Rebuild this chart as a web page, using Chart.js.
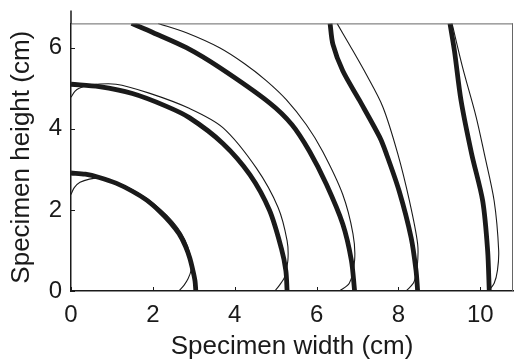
<!DOCTYPE html>
<html>
<head>
<meta charset="utf-8">
<script src="https://cdn.jsdelivr.net/npm/chart.js@4.4.1/dist/chart.umd.min.js"></script>
<style>
  html, body { margin: 0; padding: 0; background: #fff; }
</style>
</head>
<body>
<canvas id="contourChart" width="516" height="364"></canvas>
<script>
// === DATA (cm) ===
const xTicks = [0, 2, 4, 6, 8, 10];
const yTicks = [0, 2, 4, 6];

// thick contours
const thick1 = [[0,2.91],[0.35,2.88],[0.69,2.80],[1.1,2.66],[1.5,2.46],[1.85,2.24],[2.15,1.98],[2.42,1.70],[2.64,1.41],[2.8,1.1],[2.9,0.82],[2.98,0.5],[3.03,0.25],[3.05,0]];
const thick2 = [[0,5.10],[0.69,5.04],[1.5,4.87],[2.32,4.56],[2.9,4.27],[3.71,3.64],[4.37,2.87],[4.85,1.99],[5.14,1.05],[5.25,0.5],[5.28,0]];
const thick3 = [[1.48,6.6],[2.01,6.37],[2.82,6.0],[3.63,5.51],[4.85,4.64],[5.4,4.1],[5.83,3.44],[6.24,2.63],[6.64,1.65],[6.85,0.76],[6.93,0]];
const thick4 = [[6.33,6.6],[6.40,6.08],[6.64,5.43],[7.05,4.70],[7.54,3.80],[7.7,3.4],[8.02,2.46],[8.31,1.32],[8.43,0.51],[8.47,0]];
const thick5 = [[9.26,6.6],[9.37,5.92],[9.53,4.70],[9.79,3.38],[10.06,2.22],[10.18,1.0],[10.22,0]];

// thin contours
const thin1 = [[0,2.38],[0.08,2.55],[0.22,2.68],[0.45,2.76],[0.7,2.78],[1.1,2.68],[1.5,2.5],[1.85,2.28],[2.2,2.0],[2.48,1.72],[2.7,1.42],[2.85,1.1],[2.93,0.76],[2.93,0.5],[2.86,0.3],[2.76,0.14],[2.64,0]];
const thin2 = [[0,4.78],[0.1,4.93],[0.2,5.0],[0.45,5.08],[1.1,5.10],[1.91,4.88],[2.9,4.50],[3.71,4.03],[4.53,3.03],[5.06,2.06],[5.28,1.24],[5.30,0.76],[5.22,0.35],[5.1,0.15],[4.98,0]];
const thin3 = [[2.13,6.6],[2.82,6.37],[3.63,6.0],[4.25,5.6],[4.77,5.19],[5.26,4.72],[5.75,4.1],[6.15,3.44],[6.64,2.38],[6.89,1.41],[6.93,0.76],[6.8,0.19],[6.56,0]];
const thin4 = [[6.5,6.6],[6.8,6.08],[7.21,5.35],[7.62,4.54],[7.98,3.4],[8.27,2.22],[8.47,1.16],[8.46,0.6],[8.38,0.22],[8.19,0]];
const thin5 = [[9.31,6.6],[9.57,5.51],[9.90,4.29],[10.1,3.38],[10.34,2.22],[10.45,1.0],[10.42,0.51],[10.34,0.19],[10.2,0]];

const thickCurves = [thick1, thick2, thick3, thick4, thick5];
const thinCurves = [thin1, thin2, thin3, thin4, thin5];

const FONT = "'Liberation Sans', Arial, Helvetica, sans-serif";
const INK = "#1a1a1a";

function toPoints(arr) {
  return arr.map(p => ({ x: p[0], y: p[1] }));
}

function curve(arr, width) {
  return {
    data: toPoints(arr),
    showLine: true,
    borderColor: INK,
    borderWidth: width,
    pointRadius: 0,
    tension: 0.3,
    fill: false,
    clip: 0
  };
}

// box, inward ticks and the y axis stub above the box
const frame = {
  id: "frame",
  afterDraw(chart) {
    const { ctx, chartArea: a, scales: { x, y } } = chart;
    ctx.save();
    ctx.strokeStyle = "#666";
    ctx.lineWidth = 1;
    ctx.beginPath();
    ctx.moveTo(a.left, a.top + 0.5);
    ctx.lineTo(a.right, a.top + 0.5);
    ctx.moveTo(a.right - 0.5, a.top);
    ctx.lineTo(a.right - 0.5, a.bottom);
    ctx.stroke();

    ctx.strokeStyle = INK;
    ctx.beginPath();
    xTicks.forEach(v => {
      const px = Math.round(x.getPixelForValue(v)) + 0.5;
      ctx.moveTo(px, a.bottom);
      ctx.lineTo(px, a.bottom - 4);
    });
    yTicks.forEach(v => {
      const py = Math.round(y.getPixelForValue(v)) + 0.5;
      ctx.moveTo(a.left, py);
      ctx.lineTo(a.left + 4, py);
    });
    ctx.stroke();

    ctx.lineWidth = 1.5;
    ctx.beginPath();
    ctx.moveTo(a.left, a.top);
    ctx.lineTo(a.left, y.getPixelForValue(6.92));
    ctx.stroke();
    ctx.restore();
  }
};

new Chart(document.getElementById("contourChart"), {
  type: "scatter",
  data: {
    datasets: [
      ...thickCurves.map(c => curve(c, 4.8)),
      ...thinCurves.map(c => curve(c, 1.1))
    ]
  },
  options: {
    responsive: false,
    animation: false,
    layout: { padding: { top: 21, right: 3, left: 0, bottom: 0 } },
    plugins: {
      legend: { display: false },
      tooltip: { enabled: false }
    },
    scales: {
      x: {
        type: "linear",
        min: 0,
        max: 10.8,
        afterBuildTicks: s => { s.ticks = xTicks.map(v => ({ value: v })); },
        afterFit: s => { s.height = 73; },
        grid: { drawOnChartArea: false, drawTicks: false },
        border: { color: INK, width: 1.5 },
        ticks: { color: INK, padding: 10, font: { family: FONT, size: 24 } },
        title: {
          display: true,
          text: "Specimen width (cm)",
          color: INK,
          font: { family: FONT, size: 26 },
          padding: { top: 0, bottom: 2 }
        }
      },
      y: {
        type: "linear",
        min: 0,
        max: 6.6,
        afterBuildTicks: s => { s.ticks = yTicks.map(v => ({ value: v })); },
        afterFit: s => { s.width = 71; },
        grid: { drawOnChartArea: false, drawTicks: false },
        border: { color: INK, width: 1.5 },
        ticks: { color: INK, padding: 9, font: { family: FONT, size: 24 } },
        title: {
          display: true,
          text: "Specimen height (cm)",
          color: INK,
          font: { family: FONT, size: 26 },
          padding: { top: 6, bottom: 0 }
        }
      }
    }
  },
  plugins: [frame]
});
</script>
</body>
</html>
